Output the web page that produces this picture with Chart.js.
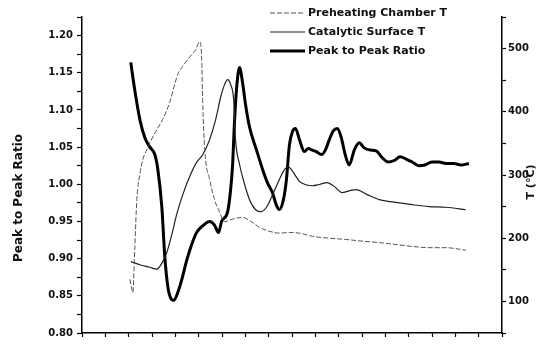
<!DOCTYPE html>
<html>
<head>
<meta charset="utf-8">
<script src="https://cdn.jsdelivr.net/npm/chart.js@4"></script>
<style>
  body{margin:0;background:#fff;}
  #wrap{width:538px;height:344px;}
</style>
</head>
<body>
<div id="wrap"><canvas id="chart" width="538" height="344"></canvas></div>
<script>
// Series labels and axis titles
const seriesNames = ['Preheating Chamber T', 'Catalytic Surface T', 'Peak to Peak Ratio'];
const leftTitle = 'Peak to Peak Ratio';
const rightTitle = 'T (°C)';

// Preheating chamber temperature (right axis, °C)
const preX = [2.05,2.14,2.18,2.26,2.35,2.48,2.61,2.78,2.91,3.21,3.46,3.76,3.97,4.10,4.32,4.62,4.87,5.04,5.13,5.17,5.26,5.47,5.68,5.90,6.11,6.45,6.88,7.26,7.61,8.03,8.46,8.89,9.32,9.87,10.60,11.32,12.09,12.74,13.46,14.15,14.87,15.60,16.45];
const preT = [135,119,114,182,261,301,325,340,351,372,388,415,443,459,472,487,498,511,483,419,340,293,261,241,226,230,233,226,217,211,208,209,208,203,200,198,195,193,190,187,185,185,181];

// Catalytic surface temperature (right axis, °C)
const catX = [2.09,2.48,2.91,3.21,3.46,3.63,3.85,4.06,4.32,4.62,4.91,5.17,5.47,5.73,5.94,6.11,6.24,6.37,6.50,6.58,6.75,6.97,7.18,7.44,7.65,7.91,8.16,8.46,8.68,8.85,9.02,9.32,9.57,9.87,10.17,10.51,10.81,11.15,11.45,11.75,12.22,12.74,13.38,14.15,14.87,15.60,16.45];
const catT = [163,158,154,151,163,177,206,238,269,298,320,332,356,388,423,443,451,443,419,356,317,285,261,245,242,249,268,293,309,313,306,290,285,283,285,288,282,272,275,277,269,261,257,253,250,249,245];

// Peak to peak ratio (left axis)
const ratioX = [2.09,2.26,2.48,2.69,2.91,3.12,3.25,3.42,3.55,3.68,3.80,3.93,4.10,4.27,4.49,4.70,4.91,5.17,5.47,5.68,5.85,5.98,6.24,6.37,6.45,6.54,6.62,6.75,6.88,7.01,7.18,7.48,7.74,7.95,8.16,8.33,8.46,8.63,8.76,8.89,9.02,9.15,9.32,9.53,9.70,9.87,10.04,10.26,10.43,10.60,10.77,10.94,11.11,11.28,11.45,11.67,11.88,12.09,12.35,12.61,12.86,13.12,13.38,13.63,13.89,14.15,14.44,14.70,15.00,15.30,15.60,15.94,16.24,16.58];
const ratioY = [1.164,1.127,1.087,1.063,1.050,1.040,1.020,0.970,0.902,0.862,0.847,0.844,0.854,0.871,0.898,0.919,0.935,0.944,0.950,0.945,0.935,0.950,0.963,0.993,1.024,1.087,1.127,1.157,1.137,1.107,1.077,1.046,1.020,1.002,0.989,0.972,0.966,0.979,1.006,1.053,1.071,1.075,1.060,1.044,1.048,1.046,1.044,1.040,1.046,1.060,1.072,1.075,1.063,1.040,1.026,1.046,1.056,1.049,1.046,1.045,1.036,1.030,1.032,1.037,1.034,1.030,1.025,1.026,1.030,1.030,1.028,1.028,1.026,1.028];

const pts = (xs, ys) => xs.map((x, i) => ({ x, y: ys[i] }));

const FONT = 'DejaVu Sans';
Chart.defaults.font.family = FONT;
Chart.defaults.color = '#111';

// axis titles and the stacked legend, drawn on the canvas
const annotate = {
  id: 'annotate',
  afterDraw(chart){
    const ctx = chart.ctx;
    ctx.save();
    ctx.fillStyle = '#111';
    ctx.textAlign = 'center';
    ctx.textBaseline = 'middle';
    ctx.font = 'bold 12px "' + FONT + '"';
    ctx.save(); ctx.translate(19, 198); ctx.rotate(-Math.PI/2); ctx.fillText(leftTitle, 0, 0); ctx.restore();
    ctx.font = 'bold 11px "' + FONT + '"';
    ctx.save(); ctx.translate(531, 182); ctx.rotate(-Math.PI/2); ctx.fillText(rightTitle, 0, 0); ctx.restore();

    // legend
    ctx.textAlign = 'left';
    ctx.font = 'bold 11px "' + FONT + '"';
    chart.data.datasets.forEach((ds, i) => {
      const y = 13 + i*19;
      ctx.save();
      ctx.strokeStyle = ds.borderColor;
      ctx.lineWidth = ds.borderWidth;
      ctx.setLineDash(ds.borderDash || []);
      ctx.beginPath(); ctx.moveTo(270, y); ctx.lineTo(305, y); ctx.stroke();
      ctx.restore();
      ctx.fillText(ds.label, 308, y);
    });
    ctx.restore();
  }
};

const tickFont = { family: FONT, size: 10, weight: 'bold' };

new Chart(document.getElementById('chart'), {
  type: 'line',
  data: {
    datasets: [
      { label: seriesNames[0], data: pts(preX, preT), yAxisID: 'y2',
        borderColor: '#555', borderWidth: 1, borderDash: [5, 2], pointRadius: 0,
        cubicInterpolationMode: 'monotone' },
      { label: seriesNames[1], data: pts(catX, catT), yAxisID: 'y2',
        borderColor: '#222', borderWidth: 1.2, pointRadius: 0,
        cubicInterpolationMode: 'monotone' },
      { label: seriesNames[2], data: pts(ratioX, ratioY), yAxisID: 'y',
        borderColor: '#000', borderWidth: 3, pointRadius: 0,
        cubicInterpolationMode: 'monotone' }
    ]
  },
  options: {
    responsive: false,
    animation: false,
    layout: { padding: { top: 17, left: 0, right: 0, bottom: 0 } },
    plugins: { legend: { display: false }, tooltip: { enabled: false } },
    scales: {
      x: {
        type: 'linear', min: 0, max: 18,
        ticks: { display: false, stepSize: 1 },
        grid: { drawOnChartArea: false, tickLength: 4, color: '#000', tickWidth: 1.2 },
        border: { color: '#000', width: 1.5 },
        afterFit(s){ s.height = 11; }
      },
      y: {
        position: 'left', min: 0.8, max: 1.225,
        ticks: { stepSize: 0.025, padding: 4, font: tickFont, color: '#111',
          callback: (v) => (Math.round(v*1000) % 50 === 0 ? v.toFixed(2) : '') },
        grid: { drawOnChartArea: false, tickLength: 5, color: '#000', tickWidth: 1.2 },
        border: { color: '#000', width: 1.5 },
        afterFit(s){ s.width = 82; }
      },
      y2: {
        position: 'right', min: 50, max: 550,
        ticks: { stepSize: 50, padding: 2, font: tickFont, color: '#111',
          callback: (v) => (v % 100 === 0 ? String(v) : '') },
        grid: { drawOnChartArea: false, tickLength: 4, color: '#000', tickWidth: 1.2 },
        border: { color: '#000', width: 1.5 },
        afterFit(s){ s.width = 36; }
      }
    }
  },
  plugins: [annotate]
});
</script>
</body>
</html>
